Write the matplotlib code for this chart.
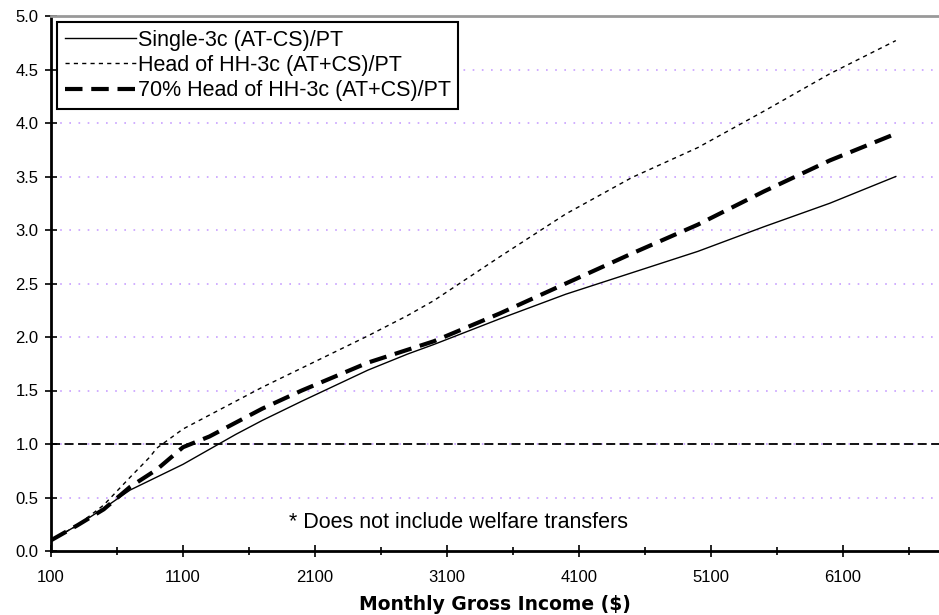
#!/usr/bin/env python3

"""
Ratio of after-tax income to poverty threshold by monthly gross income.
"""

import matplotlib as mpl
import matplotlib.pyplot as plt

mpl.use("Agg")

# Monthly gross income ($)
income = [100, 300, 500, 700, 850, 900, 1100, 1300, 1500, 1700, 2000, 2500,
          2800, 3000, 3500, 4000, 4500, 5000, 5500, 6000, 6500]

# Single-3c (AT-CS)/PT
single = [0.10, 0.24, 0.40, 0.57, 0.66, 0.69, 0.81, 0.95, 1.09, 1.22, 1.40,
          1.69, 1.84, 1.93, 2.17, 2.40, 2.60, 2.80, 3.03, 3.25, 3.50]

# Head of HH-3c (AT+CS)/PT
head_hh = [0.10, 0.24, 0.43, 0.69, 0.88, 0.96, 1.14, 1.27, 1.40, 1.53, 1.71,
           2.01, 2.20, 2.34, 2.75, 3.15, 3.49, 3.77, 4.11, 4.46, 4.77]

# 70% Head of HH-3c (AT+CS)/PT
head_hh_70 = [0.10, 0.24, 0.39, 0.60, 0.72, 0.76, 0.97, 1.07, 1.20, 1.33, 1.50,
              1.76, 1.88, 1.96, 2.22, 2.50, 2.78, 3.05, 3.36, 3.65, 3.90]

labels = ["Single-3c (AT-CS)/PT", "Head of HH-3c (AT+CS)/PT",
          "70% Head of HH-3c (AT+CS)/PT"]

x_major = [100, 1100, 2100, 3100, 4100, 5100, 6100]
x_minor = [600, 1600, 2600, 3600, 4600, 5600, 6600]
y_ticks = [0.0, 0.5, 1.0, 1.5, 2.0, 2.5, 3.0, 3.5, 4.0, 4.5, 5.0]


def main():
    """Entry point."""
    plt.rcParams["font.family"] = ["Liberation Sans", "DejaVu Sans"]

    fig = plt.figure(figsize=(9.39, 6.15), dpi=100)
    ax = fig.add_axes([51 / 939, 64 / 615, 888 / 939, 535 / 615])

    # grid lines
    for y in y_ticks[1:-1]:
        ax.axhline(y, color="#c8a0ff", lw=1.2, ls=(0, (1, 4.5)), zorder=1)
    ax.axhline(1.0, color="black", lw=1.3, ls=(0, (5, 2.5)), zorder=2)

    ax.plot(income, single, color="black", lw=1.0, label=labels[0], zorder=3)
    ax.plot(income, head_hh, color="black", lw=1.0, ls=(0, (3, 3)),
            label=labels[1], zorder=3)
    ax.plot(income, head_hh_70, color="black", lw=3.0, ls=(0, (4.2, 2.1)),
            label=labels[2], zorder=4)

    ax.set_xlim(100, 100 + 888 / 0.132)
    ax.set_ylim(0, 5.0)
    ax.set_xticks(x_major)
    ax.set_xticks(x_minor, minor=True)
    ax.set_yticks(y_ticks)
    ax.set_yticklabels([f"{v:.1f}" for v in y_ticks])
    ax.tick_params(axis="both", which="both", direction="inout", length=8,
                   width=1.2, labelsize=12, colors="black")
    ax.tick_params(axis="x", which="minor", length=6)
    ax.tick_params(axis="x", pad=10)
    ax.tick_params(axis="y", pad=5)

    ax.spines["right"].set_visible(False)
    ax.spines["top"].set_color("#999999")
    ax.spines["top"].set_linewidth(2.0)
    ax.spines["left"].set_linewidth(2.0)
    ax.spines["bottom"].set_linewidth(2.0)

    ax.set_xlabel("Monthly Gross Income ($)", fontsize=13.5, fontweight="bold",
                  family="DejaVu Sans", labelpad=7)

    ax.text(1900, 0.27, "* Does not include welfare transfers", fontsize=15.5,
            ha="left", va="center")

    leg = ax.legend(loc="upper left", bbox_to_anchor=(57 / 939, 1 - 22 / 615),
                    bbox_transform=fig.transFigure, borderaxespad=0,
                    fontsize=15.5, handlelength=3.3, handletextpad=0.1,
                    labelspacing=0.2, fancybox=False, framealpha=1,
                    edgecolor="black", borderpad=0.35)
    leg.get_frame().set_linewidth(1.5)

    fig.savefig("out.png", dpi=100)


if __name__ == "__main__":
    main()
